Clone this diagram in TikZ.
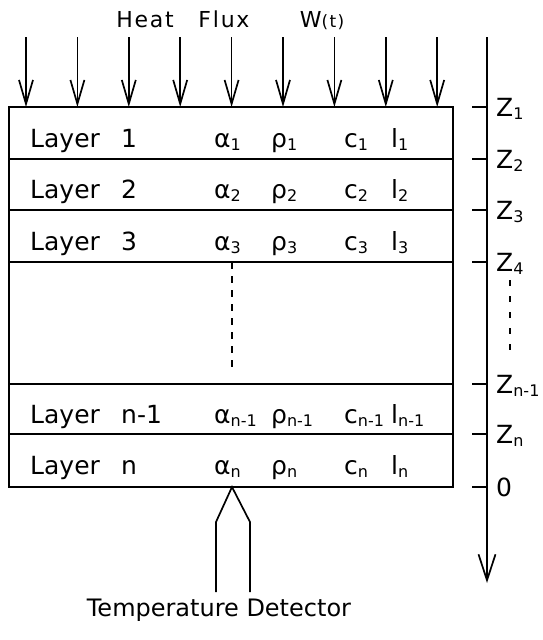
\documentclass[tikz,border=0pt]{standalone}
\usepackage{fontspec}
\setmainfont{DejaVu Sans}
\newfontfamily\weit[LetterSpace=8]{DejaVu Sans}
\usetikzlibrary{arrows.meta}
\newcommand{\tief}[1]{\raisebox{-3pt}{\fontsize{16}{16}\selectfont #1}}
\tikzset{schrift/.style={inner sep=0, anchor=base west, font=\fontsize{25}{29}\selectfont},
	kopf/.style={inner sep=0, anchor=base, font=\weit\fontsize{22}{26}\selectfont},
	fuss/.style={inner sep=0, anchor=base, font=\fontsize{24}{28}\selectfont},
	linie/.style={line width=1.7pt},
	pfeil/.style={linie, -{Straight Barb[length=24pt, width=14pt]}},
	achse/.style={linie, -{Straight Barb[length=26pt, width=17pt]}},
	strich/.style={linie, dash pattern=on 7pt off 7pt},
	punkte/.style={linie, dash pattern=on 6pt off 10pt} }

\begin{document}
\begin{tikzpicture}[x=1pt, y=-1pt]
	\useasboundingbox (0,0) rectangle (542,640);

	% Waermefluss
	\node (heat) [kopf] at (145,27) {Heat};
	\node (flux) [kopf] at (224,27) {Flux};
	\node (wt) [kopf] at (322,27) {W{\fontsize{17}{17}\selectfont(t)}};
	\foreach \i in {0,...,8} {
		\coordinate (oben\i) at (26+51.4*\i,37);
		\coordinate (unten\i) at (26+51.4*\i,107);
		\draw [pfeil] (oben\i) -- (unten\i);
	}

	% Schichten
	\coordinate (nw) at (9,107);
	\coordinate (so) at (453,487);
	\draw [linie] (nw) rectangle (so);
	\foreach \y in {159,210,262,384,434}
		\draw [linie] (9,\y) -- (453,\y);
	\foreach \y/\n/\s [count=\k] in {147/1/1, 198/2/2, 250/3/3, 423/n-1/n-1, 474/n/n} {
		\node (lage\k) [schrift] at (30,\y) {Layer};
		\node (nr\k) [schrift] at (121,\y) {\n};
		\node (alpha\k) [schrift] at (214,\y) {α\tief{\s}};
		\node (rho\k) [schrift] at (271,\y) {ρ\tief{\s}};
		\node (c\k) [schrift] at (344,\y) {c\tief{\s}};
		\node (l\k) [schrift] at (391,\y) {l\tief{\s}};
	}
	\coordinate (mitte1) at (232,262);
	\coordinate (mitte2) at (232,373);
	\draw [strich] (mitte1) -- (mitte2);

	% Achse z
	\coordinate (z0) at (487,37);
	\coordinate (zend) at (487,583);
	\draw [achse] (z0) -- (zend);
	\foreach \y/\lab [count=\k] in {107/Z\tief{1}, 159/Z\tief{2}, 210/Z\tief{3}, 262/Z\tief{4}, 384/Z\tief{n-1}, 434/Z\tief{n}, 487/0} {
		\draw [linie] (472,\y) -- (487,\y);
		\node (z\k) [schrift] at (496,\y+9) {\lab};
	}
	\coordinate (p1) at (510,280);
	\coordinate (p2) at (510,353);
	\draw [punkte] (p1) -- (p2);

	% Temperaturfuehler
	\coordinate (spitze) at (232,487);
	\coordinate (lk) at (216,522);
	\coordinate (rk) at (250,522);
	\coordinate (le) at (216,592);
	\coordinate (re) at (250,592);
	\draw [linie] (le) -- (lk) -- (spitze) -- (rk) -- (re);
	\node (fuehler) [fuss] at (219,616) {Temperature Detector};
\end{tikzpicture}
\end{document}
